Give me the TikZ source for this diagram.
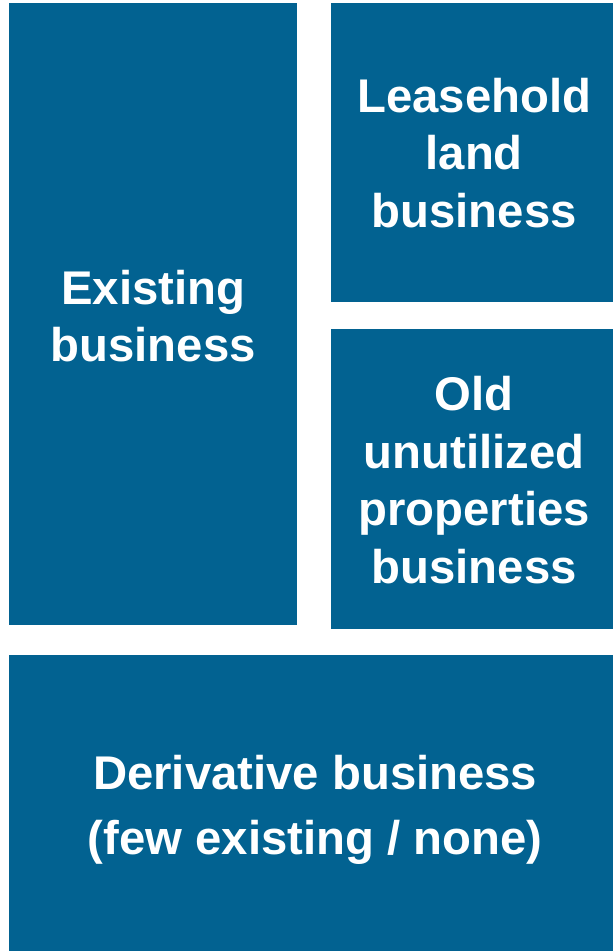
\documentclass[tikz,border=0pt]{standalone}
\usepackage{fontspec}
\setmainfont{Liberation Sans}
\definecolor{tileblue}{RGB}{2,98,145}
\tikzset{
    tile/.style = {fill = tileblue, draw = none, anchor = north west, inner sep = 0pt},
    tiletext/.style = {text = white, align = center, font = \fontsize{47.3}{57.5}\selectfont\bfseries}
}
\begin{document}
\begin{tikzpicture}[x = 1pt, y = -1pt]
        \useasboundingbox (0,0) rectangle (613,951);

        \node (existing) at (9,3) [tile, minimum width = 288pt, minimum height = 622pt] {};
        \node (leasehold) at (331,3) [tile, minimum width = 282pt, minimum height = 299pt] {};
        \node (old) at (331,329) [tile, minimum width = 282pt, minimum height = 300pt] {};
        \node (derivative) at (9,655) [tile, minimum width = 604pt, minimum height = 296pt] {};

        \node (existingtext) at (existing.center) [tiletext, yshift = -2pt] {Existing\\business};
        \node (leaseholdtext) at (leasehold.center) [tiletext, xshift = 2pt] {Leasehold\\land\\business};
        \node (oldtext) at (old.center) [tiletext, xshift = 2pt, yshift = -1pt] {Old\\unutilized\\properties\\business};
        \node (derivativetext) at (derivative.center) [tiletext, xshift = 4pt, yshift = -7pt,
            font = \fontsize{47.3}{65}\selectfont\bfseries] {Derivative business\\(few existing / none)};
    \end{tikzpicture}
\end{document}
